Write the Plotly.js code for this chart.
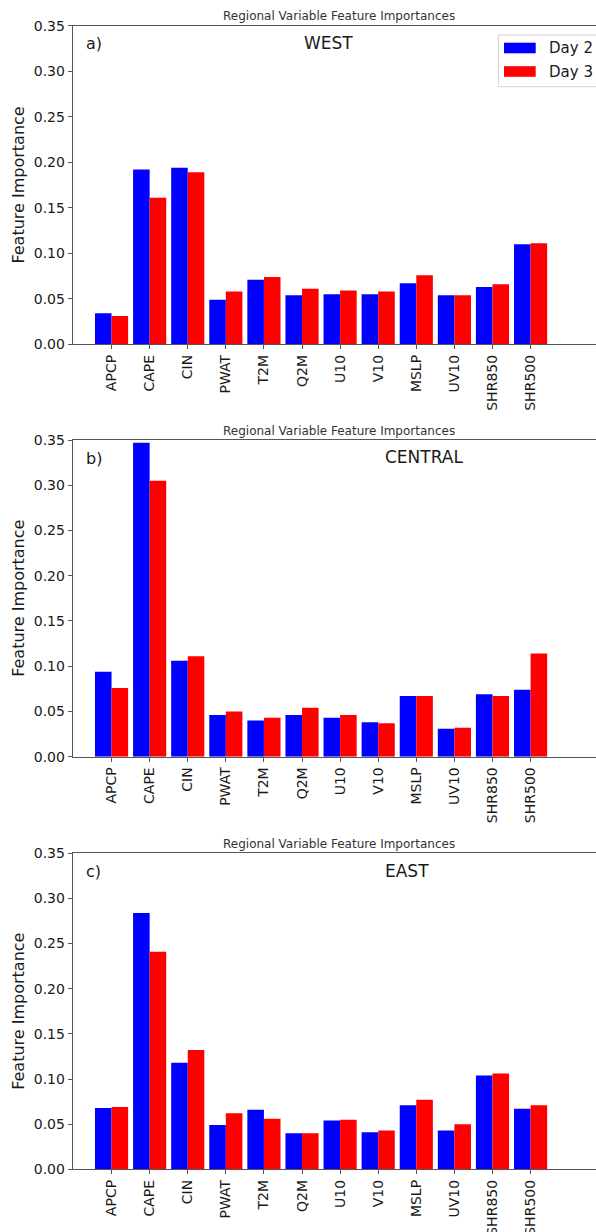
<!DOCTYPE html>
<html>
<head>
<meta charset="utf-8">
<script src="https://cdn.plot.ly/plotly-3.0.1.min.js"></script>
<style>
html, body { margin: 0; padding: 0; overflow: hidden; background: #fff; width: 596px; height: 1232px; }
#chart { width: 612px; height: 1232px; }
</style>
</head>
<body>
<div id="chart"></div>
<script>
// ---- data ----
const categories = ['APCP','CAPE','CIN','PWAT','T2M','Q2M','U10','V10','MSLP','UV10','SHR850','SHR500'];
const seriesNames = ['Day 2', 'Day 3'];
const regions = ['WEST', 'CENTRAL', 'EAST'];
const panelLetters = ['a)', 'b)', 'c)'];
const westDay2    = [0.034,0.192,0.194,0.049,0.071,0.054,0.055,0.055,0.067,0.054,0.063,0.110];
const westDay3    = [0.031,0.161,0.189,0.058,0.074,0.061,0.059,0.058,0.076,0.054,0.066,0.111];
const centralDay2 = [0.094,0.347,0.106,0.046,0.040,0.046,0.043,0.038,0.067,0.031,0.069,0.074];
const centralDay3 = [0.076,0.305,0.111,0.050,0.043,0.054,0.046,0.037,0.067,0.032,0.067,0.114];
const eastDay2    = [0.068,0.284,0.118,0.049,0.066,0.040,0.054,0.041,0.071,0.043,0.104,0.067];
const eastDay3    = [0.069,0.241,0.132,0.062,0.056,0.040,0.055,0.043,0.077,0.050,0.106,0.071];
const yTickVals = [0, 0.05, 0.10, 0.15, 0.20, 0.25, 0.30, 0.35];

const regionData = [[westDay2, westDay3], [centralDay2, centralDay3], [eastDay2, eastDay3]];
const colors = ['#0000ff', '#ff0000'];

// ---- layout geometry (pixels) ----
const W = 612, H = 1232;
const axLeft = 72.7, axRight = 606;
const panelTop = [25.8, 440, 853.3];
const panelBottom = [344.3, 756.7, 1169.3];
const px = v => v / W;
const py = v => 1 - v / H;
const FONT = 'DejaVu Sans, sans-serif';
const TXT = '#1a1a1a';
const AXC = '#555555';

const traces = [];
const layout = {
  width: W, height: H,
  margin: {l: 0, r: 0, t: 0, b: 0},
  paper_bgcolor: '#fff', plot_bgcolor: '#fff',
  barmode: 'group', bargap: 0.13, bargroupgap: 0,
  showlegend: false,
  font: {family: FONT, color: TXT},
  annotations: [], shapes: []
};

regions.forEach((reg, i) => {
  const xa = i === 0 ? 'x' : 'x' + (i + 1);
  const ya = i === 0 ? 'y' : 'y' + (i + 1);
  regionData[i].forEach((vals, s) => {
    traces.push({
      type: 'bar', x: categories, y: vals, name: seriesNames[s],
      xaxis: xa, yaxis: ya,
      marker: {color: colors[s], line: {width: 0}},
      hoverinfo: 'x+y+name'
    });
  });
  const xKey = i === 0 ? 'xaxis' : 'xaxis' + (i + 1);
  const yKey = i === 0 ? 'yaxis' : 'yaxis' + (i + 1);
  layout[xKey] = {
    domain: [px(axLeft), px(axRight)],
    anchor: ya, type: 'category',
    range: [-1.02, 12.98],
    showline: true, linecolor: AXC, linewidth: 1, mirror: true,
    ticks: 'outside', ticklen: 4, tickcolor: AXC, tickwidth: 1,
    tickangle: -90, tickfont: {family: FONT, size: 14, color: TXT},
    showgrid: false, zeroline: false, fixedrange: true
  };
  layout[yKey] = {
    domain: [py(panelBottom[i]), py(panelTop[i])],
    anchor: xa,
    range: [0, 0.35],
    tickvals: yTickVals, tickformat: '.2f',
    showline: true, linecolor: AXC, linewidth: 1, mirror: true,
    ticks: 'outside', ticklen: 4, tickcolor: AXC, tickwidth: 1,
    tickfont: {family: FONT, size: 14, color: TXT},
    showgrid: false, zeroline: false, fixedrange: true
  };
  const off = panelTop[i] - panelTop[0];
  // title
  layout.annotations.push({
    xref: 'paper', yref: 'paper', x: px((axLeft + axRight) / 2), y: py(16.5 + off),
    text: 'Regional Variable Feature Importances', showarrow: false,
    xanchor: 'center', yanchor: 'middle', font: {family: FONT, size: 12, color: '#333'}
  });
  // y title
  layout.annotations.push({
    xref: 'paper', yref: 'paper', x: px(18.5), y: py((panelTop[i] + panelBottom[i]) / 2),
    text: 'Feature Importance', showarrow: false, textangle: -90,
    xanchor: 'center', yanchor: 'middle', font: {family: FONT, size: 16, color: TXT}
  });
  // panel letter
  layout.annotations.push({
    xref: 'paper', yref: 'paper', x: px(84), y: py(44 + off),
    text: panelLetters[i], showarrow: false,
    xanchor: 'left', yanchor: 'middle', font: {family: FONT, size: 16, color: TXT}
  });
  // region name
  const regLeft = [303, 384, 384][i];
  layout.annotations.push({
    xref: 'paper', yref: 'paper', x: px(regLeft - 1), y: py(43 + off),
    text: reg, showarrow: false,
    xanchor: 'left', yanchor: 'middle', font: {family: FONT, size: 17, color: TXT}
  });
});

// legend (panel a only), drawn like matplotlib's
layout.shapes.push({
  type: 'rect', xref: 'paper', yref: 'paper',
  x0: px(498.3), x1: px(600), y0: py(86.7), y1: py(35),
  line: {color: '#d4d4d4', width: 1}, fillcolor: 'rgba(255,255,255,0.8)'
});
const legendRowY = [48, 71.5];
seriesNames.forEach((nm, s) => {
  layout.shapes.push({
    type: 'rect', xref: 'paper', yref: 'paper',
    x0: px(504), x1: px(535.7), y0: py(legendRowY[s] + 5.3), y1: py(legendRowY[s] - 5.3),
    line: {width: 0}, fillcolor: colors[s]
  });
  layout.annotations.push({
    xref: 'paper', yref: 'paper', x: px(547), y: py(legendRowY[s]),
    text: nm, showarrow: false, xanchor: 'left', yanchor: 'middle',
    font: {family: FONT, size: 15, color: TXT}
  });
});

Plotly.newPlot('chart', traces, layout, {displayModeBar: false, staticPlot: true});
</script>
</body>
</html>
